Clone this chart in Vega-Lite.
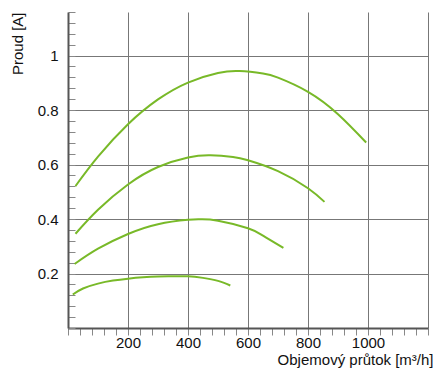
{
  "$schema": "https://vega.github.io/schema/vega-lite/v6.json",
  "autosize": {"type": "none"},
  "padding": {"left": 68, "top": 12, "right": 9, "bottom": 48},
  "width": 360,
  "height": 316,
  "background": "white",
  "config": {
    "view": {"stroke": null},
    "font": "Liberation Sans",
    "axis": {"labelFont": "Liberation Sans", "titleFont": "Liberation Sans", "labelFontSize": 15, "titleFontSize": 15, "labelColor": "#111", "titleColor": "#111", "titleFontWeight": "normal"}
  },
  "data": {"values": [
    {"s": "1", "x": 25, "y": 0.521}, {"s": "1", "x": 100, "y": 0.629}, {"s": "1", "x": 200, "y": 0.748}, {"s": "1", "x": 300, "y": 0.839}, {"s": "1", "x": 400, "y": 0.901}, {"s": "1", "x": 500, "y": 0.936}, {"s": "1", "x": 572, "y": 0.943}, {"s": "1", "x": 650, "y": 0.934}, {"s": "1", "x": 700, "y": 0.919}, {"s": "1", "x": 800, "y": 0.867}, {"s": "1", "x": 900, "y": 0.785}, {"s": "1", "x": 994, "y": 0.681},
    {"s": "2", "x": 25, "y": 0.346}, {"s": "2", "x": 100, "y": 0.434}, {"s": "2", "x": 200, "y": 0.527}, {"s": "2", "x": 300, "y": 0.591}, {"s": "2", "x": 400, "y": 0.626}, {"s": "2", "x": 475, "y": 0.634}, {"s": "2", "x": 550, "y": 0.628}, {"s": "2", "x": 600, "y": 0.616}, {"s": "2", "x": 700, "y": 0.576}, {"s": "2", "x": 800, "y": 0.513}, {"s": "2", "x": 855, "y": 0.463},
    {"s": "3", "x": 22, "y": 0.235}, {"s": "3", "x": 100, "y": 0.291}, {"s": "3", "x": 200, "y": 0.345}, {"s": "3", "x": 300, "y": 0.381}, {"s": "3", "x": 400, "y": 0.397}, {"s": "3", "x": 440, "y": 0.399}, {"s": "3", "x": 500, "y": 0.394}, {"s": "3", "x": 600, "y": 0.366}, {"s": "3", "x": 650, "y": 0.339}, {"s": "3", "x": 718, "y": 0.294},
    {"s": "4", "x": 16, "y": 0.123}, {"s": "4", "x": 50, "y": 0.145}, {"s": "4", "x": 100, "y": 0.163}, {"s": "4", "x": 150, "y": 0.174}, {"s": "4", "x": 200, "y": 0.181}, {"s": "4", "x": 250, "y": 0.186}, {"s": "4", "x": 300, "y": 0.189}, {"s": "4", "x": 350, "y": 0.19}, {"s": "4", "x": 400, "y": 0.19}, {"s": "4", "x": 450, "y": 0.184}, {"s": "4", "x": 500, "y": 0.173}, {"s": "4", "x": 541, "y": 0.156}
  ]},
  "mark": {"type": "line", "interpolate": "natural", "color": "#78b928", "strokeWidth": 2},
  "encoding": {
    "detail": {"field": "s", "type": "nominal"},
    "x": {
      "field": "x", "type": "quantitative",
      "scale": {"domain": [0, 1200], "nice": false},
      "axis": {
        "values": [0,40,80,120,160,200,240,280,320,360,400,440,480,520,560,600,640,680,720,760,800,840,880,920,960,1000,1040,1080,1120,1160,1200],
        "labelExpr": "(datum.value % 200 == 0 && datum.value > 0 && datum.value < 1200) ? datum.value : ''",
        "labelPadding": 0,
        "tickSize": 7, "tickColor": "#888", "tickWidth": 1,
        "domainColor": "#555", "domainWidth": 2,
        "grid": true,
        "gridColor": "#777", "gridWidth": 1,
        "gridOpacity": {"condition": {"test": "datum.value % 200 == 0 && datum.value > 0", "value": 1}, "value": 0},
        "title": "Objemový průtok [m³/h]",
        "titleAlign": "right", "titleAnchor": "end", "titleX": 365, "titleY": 36, "titleBaseline": "alphabetic"
      }
    },
    "y": {
      "field": "y", "type": "quantitative",
      "scale": {"domain": [0, 1.16], "nice": false},
      "axis": {
        "values": [0,0.04,0.08,0.12,0.16,0.2,0.24,0.28,0.32,0.36,0.4,0.44,0.48,0.52,0.56,0.6,0.64,0.68,0.72,0.76,0.8,0.84,0.88,0.92,0.96,1,1.04,1.08,1.12,1.16],
        "labelExpr": "(abs(datum.value*5 - round(datum.value*5)) < 0.001 && datum.value > 0) ? format(datum.value, '~g') : ''",
        "tickSize": -7, "labelPadding": 17, "tickColor": "#888", "tickWidth": 1,
        "domainColor": "#555", "domainWidth": 2,
        "grid": true,
        "gridColor": "#777", "gridWidth": 1,
        "gridOpacity": {"condition": {"test": "abs(datum.value*5 - round(datum.value*5)) < 0.001 && datum.value > 0", "value": 1}, "value": 0},
        "title": "Proud [A]",
        "titleAngle": -90, "titleAlign": "right", "titleX": -51, "titleY": 0, "titleBaseline": "middle"
      }
    }
  }
}
